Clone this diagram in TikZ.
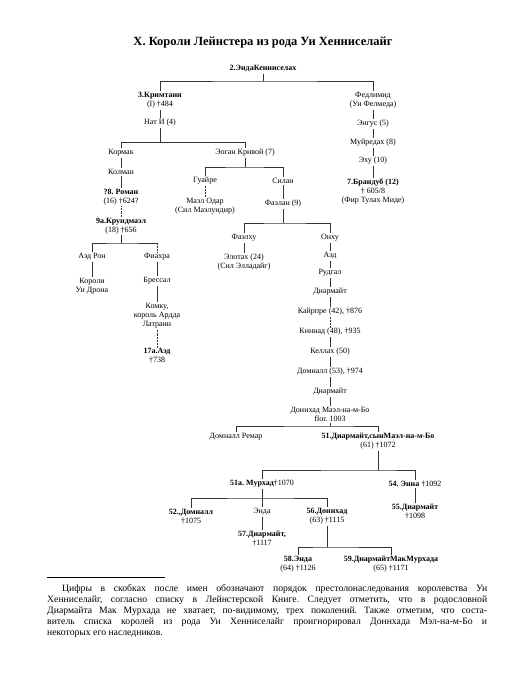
\documentclass[tikz,border=0pt]{standalone}
\usepackage{fontspec}
\setmainfont{Liberation Serif}
\usetikzlibrary{positioning}
\frenchspacing

\begin{document}
\begin{tikzpicture}[
  x=1pt, y=-1pt,
  font=\fontsize{8}{9}\selectfont,
  nm/.style    = {inner sep=1pt, align=center},
  kg/.style    = {nm, font=\fontsize{8}{9}\selectfont\bfseries},
  ttl/.style   = {font=\fontsize{12.5}{14}\selectfont\bfseries},
  ln/.style    = {line width=0.45pt, black!80},
  dln/.style   = {ln, densely dotted},
  note/.style  = {anchor=north west, inner sep=0pt, text width=440pt,
                  align=justify, font=\fontsize{9.7}{11}\selectfont},
]
\useasboundingbox (0,0) rectangle (529,700);

%%────────── title ───────────────────────────────────────
\node[ttl] (title) at (263,43) {Х. Короли Лейнстера из рода Уи Хенниселайг};

%%────────── top generations ─────────────────────────────
\node[kg] (enna2) at (263,69)    {2.ЭндаКенниселах};
\node[nm] (krim)  at (160,100.5) {\textbf{3.Кримтанн}\\(I)~†484};
\node[nm] (nat)   at (160,123)   {Нат И (4)};
\node[nm] (fed)   at (373,100.5) {Федлимид\\(Уи Фелмеда)};
\node[nm] (engus) at (373,124)   {Энгус (5)};
\node[nm] (muir)  at (373,143)   {Муйредах (8)};
\node[nm] (ehu)   at (373,161)   {Эху (10)};
\node[nm] (brand) at (373,192)   {\textbf{7.Брандуб (12)}\\†~605/8\\(Фир Тулах Миде)};

\coordinate (b1) at (263,81);
\draw[ln] (enna2) -- (b1);
\draw[ln] (krim.north) |- (b1) -| (fed.north);
\draw[ln] (krim)  -- (nat);
\draw[ln] (fed)   -- (engus);
\draw[ln] (engus) -- (muir);
\draw[ln] (muir)  -- (ehu);
\draw[ln] (ehu)   -- (brand);

%%────────── line of Kormak ──────────────────────────────
\node[nm] (korm)   at (121,153) {Кормак};
\node[nm] (kolm)   at (121,172) {Колман};
\node[nm] (ronan)  at (121,197) {\textbf{?8. Роман}\\(16)~†624?};
\node[nm] (krund)  at (121,226) {\textbf{9а.Крундмаэл}\\(18)~†656};
\node[nm] (aedron) at (92,257)  {Аэд Рон};
\node[nm] (fiach)  at (157,257) {Фиахра};
\node[nm] (koroli) at (92,286)  {Короли\\Уи Дрона};
\node[nm] (bress)  at (157,281) {Брессал};
\node[nm] (komgu)  at (157,316) {Комку,\\король Ардда\\Латраин};
\node[nm] (aed17)  at (157,356) {\textbf{17а.Аэд}\\†738};

\coordinate (b2) at (160,142);
\coordinate (b3) at (121,243);
\draw[ln]  (nat) -- (b2);
\draw[ln]  (korm.north) |- (b2);
\draw[ln]  (korm)  -- (kolm);
\draw[ln]  (kolm)  -- (ronan);
\draw[dln] (ronan) -- (krund);
\draw[ln]  (krund) -- (b3);
\draw[ln]  (aedron.north) |- (b3) -- (b3 -| fiach);
\draw[dln] (b3 -| fiach) -- (fiach.north);
\draw[ln]  (aedron) -- (koroli);
\draw[ln]  (fiach)  -- (bress);
\draw[ln]  (bress)  -- (komgu);
\draw[dln] (komgu)  -- (aed17);

%%────────── line of Eogan ───────────────────────────────
\node[nm] (eogan)   at (245,153) {Эоган Кривой (7)};
\node[nm] (guaire)  at (205,181) {Гуайре};
\node[nm] (silan)   at (283,181) {Силан};
\node[nm] (mael)    at (205,206) {Маэл Одар\\(Сил Маэлуидир)};
\node[nm] (faelan)  at (283,204) {Фаэлан (9)};
\node[nm] (faelchu) at (244,238) {Фаэлху};
\node[nm] (onchu)   at (330,238) {Онху};
\node[nm] (elod)    at (244,262) {Элотах (24)\\(Сил Элладайг)};

\draw[ln] (b2) -| (eogan.north);
\coordinate (b4) at (245,167);
\coordinate (b5) at (283,223);
\draw[ln]  (eogan) -- (b4);
\draw[ln]  (guaire.north) |- (b4) -| (silan.north);
\draw[dln] (guaire) -- (mael);
\draw[ln]  (silan)  -- (faelan);
\draw[ln]  (faelan) -- (b5);
\draw[ln]  (faelchu.north) |- (b5) -| (onchu.north);
\draw[ln]  (faelchu) -- (elod);

%%────────── line of Onchu ───────────────────────────────
\node[nm] (aedo)   at (330,256) {Аэд};
\node[nm] (rud)    at (330,273) {Рудгал};
\node[nm] (diar1)  at (330,292) {Диармайт};
\node[nm] (kair)   at (330,312) {Кайрпре (42), †876};
\node[nm] (kinn)   at (330,332) {Киннад (48), †935};
\node[nm] (kell)   at (330,352) {Келлах (50)};
\node[nm] (domn)   at (330,372) {Домналл (53), †974};
\node[nm] (diar2)  at (330,392) {Диармайт};
\node[nm] (donnmb) at (330,414.5) {Доннхад Маэл-на-м-Бо\\flor. 1003};

\draw[ln]  (onchu) -- (aedo);
\draw[ln]  (aedo)  -- (rud);
\draw[ln]  (rud)   -- (diar1);
\draw[ln]  (diar1) -- (kair);
\draw[dln] (kair)  -- (kinn);
\draw[ln]  (kinn)  -- (kell);
\draw[ln]  (kell)  -- (domn);
\draw[ln]  (domn)  -- (diar2);
\draw[ln]  (diar2) -- (donnmb);

%%────────── descendants of Donnchad ─────────────────────
\node[nm] (domrem) at (236,437)   {Домналл Ремар};
\node[nm] (diar51) at (378,441.5) {\textbf{51.Диармайт,сынМаэл-на-м-Бо}\\(61)~†1072};
\node[nm] (murch)  at (262,484)   {\textbf{51а.~Мурхад}†1070};
\node[nm] (enna54) at (415,484)   {\textbf{54.~Энна}~†1092};
\node[nm] (domn52) at (191,516.5) {\textbf{52.,Домналл}\\†1075};
\node[nm] (enda)   at (262,512)   {Энда};
\node[nm] (donn56) at (327,516.5) {\textbf{56.Доннхад}\\(63)~†1115};
\node[nm] (diar55) at (415,512)   {\textbf{55.Диармайт}\\†1098};
\node[nm] (diar57) at (262,538.5) {\textbf{57.Диармайт,}\\†1117};
\node[nm] (enda58) at (298,564.5) {\textbf{58.Энда}\\(64)~†1126};
\node[nm] (diar59) at (391,564.5) {\textbf{59.ДиармайтМакМурхада}\\(65)~†1171};

\coordinate (b6) at (330,426);
\coordinate (b7) at (378,470);
\coordinate (b8) at (262,498);
\coordinate (b9) at (327,547);
\draw[ln] (donnmb) -- (b6);
\draw[ln] (domrem.north) |- (b6) -| (diar51.north);
\draw[ln] (diar51) -- (b7);
\draw[ln] (murch.north) |- (b7) -| (enna54.north);
\draw[ln] (murch)  -- (b8);
\draw[ln] (domn52.north) |- (b8) -| (donn56.north);
\draw[ln] (b8)     -- (enda.north);
\draw[ln] (enda)   -- (diar57);
\draw[ln] (enna54) -- (diar55);
\draw[ln] (donn56) -- (b9);
\draw[ln] (enda58.north) |- (b9) -| (diar59.north);

%%────────── footnote ────────────────────────────────────
\coordinate (r1) at (47,577);
\coordinate (r2) at (165,577);
\draw[line width=0.4pt] (r1) -- (r2);
\node[note] (fn) at (47,584) {\hspace*{15pt}Цифры в скобках после имен обозначают порядок престолонаследования королевства Уи\linebreak
Хенниселайг, согласно списку в Лейнстерской Книге. Следует отметить, что в родословной\linebreak
Диармайта Мак Мурхада не хватает, по-видимому, трех поколений. Также отметим, что соста-\linebreak
витель списка королей из рода Уи Хенниселайг проигнорировал Доннхада Мэл-на-м-Бо и\linebreak
некоторых его наследников.};

\end{tikzpicture}
\end{document}
